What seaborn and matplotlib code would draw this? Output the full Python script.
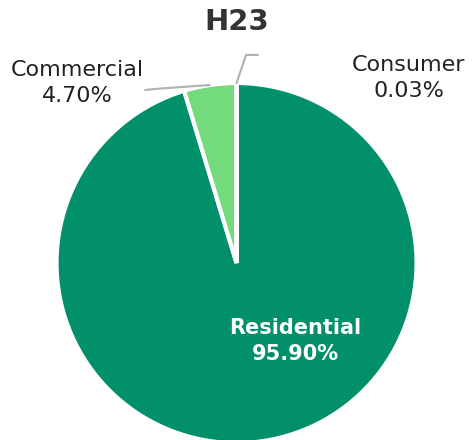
import matplotlib
matplotlib.use("Agg")
import matplotlib.pyplot as plt
import seaborn as sns

# 資料
labels = ["Residential", "Commercial", "Consumer"]
values = [95.90, 4.70, 0.03]
colors = ["#01906a", "#73db7b", "#73db7b"]

sns.set_theme(style="white")
plt.rcParams["font.family"] = ["DejaVu Sans"]

fig = plt.figure(figsize=(4.72, 4.40), dpi=100)
ax = fig.add_axes([0, 0, 1, 1])

wedges, _ = ax.pie(values, colors=colors, startangle=90, counterclock=False,
                   wedgeprops=dict(edgecolor="white", linewidth=3))

ax.set_aspect("equal")
ax.set_xlim(-1.314, 1.308)
ax.set_ylim(-0.983, 1.461)
ax.axis("off")

# 標題
ax.text(0, 1.339, "H23", ha="center", va="center", fontsize=21,
        fontweight="bold", color="#333333")

# 內部標籤
ax.text(0.328, -0.433, "Residential\n95.90%", ha="center", va="center",
        fontsize=15, fontweight="bold", color="white", linespacing=1.4)

# 外部標籤 + 引線
ax.plot([-0.149, -0.453, -0.508], [0.989, 0.967, 0.961], color="#b0b0b0", lw=1.5)
ax.text(-0.883, 1.0, "Commercial\n4.70%", ha="center", va="center",
        fontsize=16, color="#222222", linespacing=1.35)

ax.plot([0.0, 0.053, 0.119], [1.0, 1.156, 1.156], color="#b0b0b0", lw=1.5)
ax.text(0.955, 1.028, "Consumer\n0.03%", ha="center", va="center",
        fontsize=16, color="#222222", linespacing=1.35)

fig.savefig("out.png", dpi=100)
